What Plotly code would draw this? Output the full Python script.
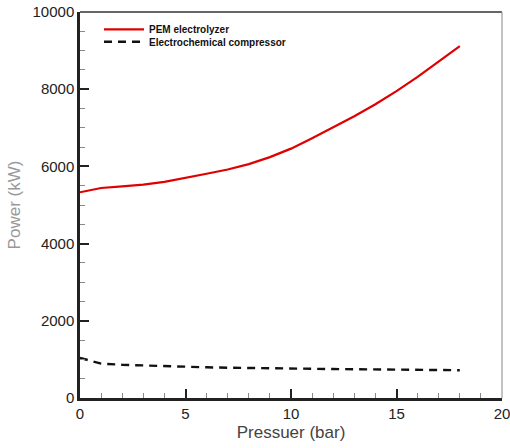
import plotly.graph_objects as go

pressure = [0, 1, 2, 3, 4, 5, 6, 7, 8, 9, 10, 11, 12, 13, 14, 15, 16, 17, 18]
pem_power = [5330, 5440, 5480, 5530, 5600, 5700, 5810, 5920, 6060, 6240, 6460,
             6730, 7010, 7300, 7610, 7950, 8320, 8710, 9116]
comp_power = [1040, 890, 860, 840, 825, 810, 795, 785, 775, 765, 760, 755, 750,
              745, 740, 735, 730, 725, 720]

x_ticks = [0, 5, 10, 15, 20]
x_labels = ["0", "5", "10", "15", "20"]
y_ticks = [0, 2000, 4000, 6000, 8000, 10000]
y_labels = ["0", "2000", "4000", "6000", "8000", "10000"]

fig = go.Figure()
fig.add_trace(go.Scatter(x=pressure, y=pem_power, mode="lines",
                         name="PEM electrolyzer", legend="legend",
                         line=dict(color="#e00000", width=2.2)))
fig.add_trace(go.Scatter(x=pressure, y=comp_power, mode="lines",
                         name="Electrochemical compressor", legend="legend2",
                         line=dict(color="#111111", width=2.4, dash="8px,6px")))

leg_font = dict(size=10, color="#111", family="Liberation Sans, Arial", weight="bold")

fig.update_layout(
    width=510, height=448,
    margin=dict(l=80, r=8, t=12, b=50),
    paper_bgcolor="white", plot_bgcolor="white",
    font=dict(family="Liberation Sans, Arial", color="#222"),
    showlegend=True,
    legend=dict(x=0.045, y=0.955, xanchor="left", yanchor="middle",
                bgcolor="rgba(0,0,0,0)", itemwidth=40, font=leg_font),
    legend2=dict(x=0.045, y=0.923, xanchor="left", yanchor="middle",
                 bgcolor="rgba(0,0,0,0)", itemwidth=40, font=leg_font),
    xaxis=dict(range=[0, 20], tickvals=x_ticks, ticktext=x_labels, automargin=False,
               ticks="inside", ticklen=9, ticklabeloverflow="allow",
               tickwidth=2, tickcolor="#222", showline=True, linecolor="#222",
               linewidth=2.5, showgrid=False, zeroline=False,
               tickfont=dict(size=15, color="#222"),
               minor=dict(tickmode="linear", tick0=0, dtick=1, ticks="inside",
                          ticklen=5, tickwidth=1, tickcolor="#888", showgrid=False),
               title=dict(text="Pressuer (bar)", font=dict(size=17, color="#444"), standoff=6)),
    yaxis=dict(range=[0, 10000], tickvals=y_ticks, ticktext=y_labels, automargin=False,
               ticks="inside", ticklen=9, ticklabeloverflow="allow",
               tickwidth=2, tickcolor="#222", showline=True, linecolor="#222",
               linewidth=2.5, showgrid=False, zeroline=False,
               tickfont=dict(size=15, color="#222"),
               minor=dict(tickmode="linear", tick0=0, dtick=500, ticks="inside",
                          ticklen=5, tickwidth=1, tickcolor="#888", showgrid=False),
               title=dict(text="Power (kW)", font=dict(size=17, color="#999"), standoff=8)),
    shapes=[
        dict(type="line", xref="paper", yref="paper", x0=0, x1=1, y0=1, y1=1,
             line=dict(color="#333", width=1.5)),
        dict(type="line", xref="paper", yref="paper", x0=1, x1=1, y0=0, y1=1,
             line=dict(color="#999", width=1.2)),
    ],
)

fig.write_html("out.html")
